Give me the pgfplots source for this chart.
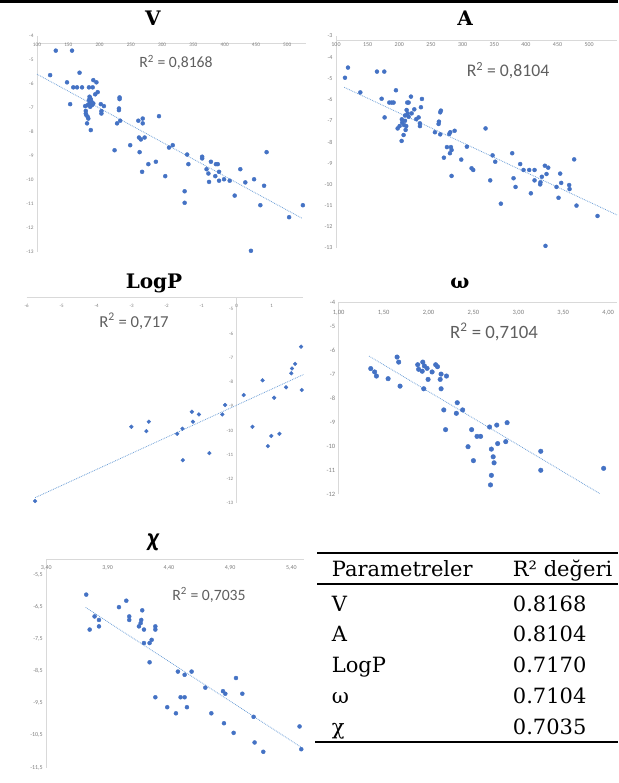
\documentclass[border=0pt]{standalone}
\usepackage{pgfplots}
\pgfplotsset{compat=1.18}
\usepackage{fontspec}
\setmainfont{DejaVu Serif}
\newfontfamily\carlito{Carlito}

\definecolor{xblue}{RGB}{68,114,196}
\definecolor{tline}{RGB}{110,160,215}
\definecolor{axgray}{RGB}{217,217,217}
\definecolor{labgray}{RGB}{125,125,125}
\definecolor{rgray}{RGB}{95,95,95}

\pgfplotsset{
  xl/.style={scale only axis, anchor=north west,
    axis x line*=top, axis y line*=left,
    axis line style={draw=axgray, line width=0.7pt},
    major tick length=0pt, scaled ticks=false, clip=false,
    tick label style={font=\carlito\fontsize{#1}{#1}\selectfont, text=labgray},
    /pgf/number format/assume math mode=true,
    xticklabel style={anchor=center}},
  dots/.style={only marks, mark=*, mark size=#1, color=xblue},
  trend/.style={no marks, densely dotted, color=tline, line width=0.8pt},
}
\newcommand{\ttl}[1]{\bfseries\fontsize{20}{24}\selectfont #1}
\newcommand{\rsq}[2]{\carlito\color{rgray}\fontsize{#1}{#1}\selectfont R\textsuperscript{2} = #2}

\begin{document}
\begin{tikzpicture}
\useasboundingbox (0,0) rectangle (618pt,-783pt);
\fill[black] (0,0) rectangle (618pt,-3pt);

% ---- V ----
\node[anchor=base] at (153pt,-26pt) {\ttl{V}};
\begin{axis}[xl=5.3, at={(37pt,-36pt)}, width=269pt, height=216pt,
  xmin=100, xmax=530, ymin=-13, ymax=-4,
  xtick={100,150,...,500}, ytick={-13,...,-4},
  axis x line shift=-7pt, xticklabel shift=-2pt]
\addplot[dots=2pt] coordinates {
(121,-5.63)(130,-4.61)(148,-5.93)(153,-6.84)(156,-4.61)(158,-6.14)(164,-6.14)
(168,-5.53)(172,-6.14)(177,-6.92)(178,-7.12)(178,-7.23)(179,-7.30)(180,-7.64)
(181,-7.37)(181,-6.88)(182,-7.44)(183,-6.14)(183,-6.67)(184,-6.53)(184,-6.80)
(185,-6.95)(185,-6.60)(186,-6.64)(186,-7.92)(187,-6.73)(188,-6.88)(189,-6.14)
(190,-5.84)(190,-6.81)(193,-6.43)(195,-5.93)(197,-6.34)(202,-6.84)(203,-7.13)
(203,-7.23)(207,-6.92)(224,-8.76)(228,-7.64)(231,-7.09)(231,-7.02)(232,-6.56)
(232,-6.63)(233,-7.53)(249,-8.55)(262,-7.53)(263,-8.23)(264,-8.84)(266,-8.31)
(269,-7.44)(269,-7.64)(268,-9.66)(272,-8.23)(278,-9.34)(290,-9.24)(295,-7.34)
(305,-9.84)(311,-8.65)(317,-8.55)(336,-10.47)(336,-10.95)(340,-8.94)(342,-9.34)
(364,-9.10)(364,-9.03)(371,-9.55)(374,-9.73)(375,-10.08)(378,-9.24)(385,-9.84)
(386,-9.34)(389,-9.34)(391,-9.66)(391,-10.03)(399,-9.97)(408,-10.03)(416,-10.65)
(425,-9.55)(433,-10.10)(447,-9.97)(457,-11.05)(463,-10.24)(467,-8.84)(503,-11.55)
(525,-11.05)(442,-12.95)};
\addplot[trend] coordinates {(100,-5.59)(524,-11.60)};
\end{axis}
\node[anchor=base] at (176pt,-68pt) {\rsq{15.7}{0,8168}};

% ---- A ----
\node[anchor=base] at (465pt,-26pt) {\ttl{A}};
\begin{axis}[xl=6, at={(336pt,-36pt)}, width=281pt, height=212pt,
  xmin=100, xmax=544, ymin=-13, ymax=-3,
  xtick={100,150,...,500}, ytick={-13,...,-3},
  axis x line shift=-4pt, xticklabel shift=-5pt]
\addplot[dots=2pt] coordinates {
(114.2,-4.97)(118.9,-4.49)(138.4,-5.66)(164.7,-4.68)(176.3,-4.68)(172.1,-5.96)
(176.8,-6.84)(184.2,-6.14)(188,-6.14)(191,-6.14)(194.7,-5.56)(197.4,-7.36)
(200.5,-7.25)(203.7,-7.95)(204,-6.93)(204.5,-7.09)(206.8,-7.67)(207.5,-7.20)
(209,-6.75)(209,-7.00)(210,-7.43)(211.6,-6.49)(213.2,-6.65)(214.7,-6.81)
(211,-7.25)(212.6,-6.14)(214.7,-6.14)(218.4,-5.86)(219.5,-6.65)(223.7,-6.46)
(226.8,-6.92)(230.5,-6.84)(234.2,-6.36)(235.8,-5.97)(232.6,-7.12)(232.6,-7.25)
(256.3,-7.54)(262.1,-7.15)(262.6,-7.04)(264.7,-6.60)(265.7,-6.52)(264.7,-7.64)
(270.5,-8.74)(275.3,-8.24)(279,-7.62)(280.5,-7.54)(280,-8.53)(281.6,-8.24)
(282.6,-8.38)(282.6,-9.60)(287.4,-7.47)(297.9,-8.83)(306.8,-8.22)(314.2,-9.24)
(316.8,-9.32)(336.3,-7.36)(343.7,-9.81)(347.4,-8.63)(351.6,-8.93)(360.5,-10.91)
(378.4,-8.53)(380.5,-9.71)(383.7,-10.12)(391,-9.04)(396.3,-9.32)(405.3,-9.32)
(407.9,-10.42)(413.7,-9.32)(413.7,-9.81)(422.6,-10.00)(423.1,-9.90)(425.3,-9.64)
(430,-9.12)(432.6,-9.51)(435.3,-9.21)(431,-12.90)(448.4,-10.12)(451.6,-10.63)
(454.2,-9.49)(455.8,-9.93)(468.4,-10.03)(469,-10.22)(476.3,-8.82)(480,-11.00)
(513.2,-11.49)};
\addplot[trend] coordinates {(113,-5.42)(544,-11.44)};
\end{axis}
\node[anchor=base] at (508pt,-77pt) {\rsq{17.7}{0,8104}};

% ---- LogP ----
\node[anchor=base] at (154pt,-288pt) {\ttl{LogP}};
\begin{axis}[xl=5, at={(26.7pt,-297.3pt)}, width=276.5pt, height=205.7pt,
  xmin=-6, xmax=1.9, ymin=-13, ymax=-4.5,
  xtick={-6,...,1}, ytick={-13,...,-5},
  axis y line*=middle, xticklabel shift=-9pt]
\addplot[dots=1.9pt] coordinates {
(-5.76,-12.92)(-3.01,-9.85)(-2.58,-10.03)(-2.51,-9.64)(-1.70,-10.14)(-1.55,-9.93)
(-1.54,-11.23)(-1.28,-9.23)(-1.25,-9.64)(-1.08,-9.34)(-0.78,-10.94)(-0.41,-9.34)
(-0.33,-8.95)(0.20,-8.54)(0.45,-9.85)(0.74,-7.93)(0.89,-10.65)(0.99,-10.23)
(1.07,-8.65)(1.22,-10.14)(1.41,-8.22)(1.56,-7.64)(1.58,-7.44)(1.67,-7.25)
(1.84,-6.54)(1.86,-8.33)};
\addplot[trend] coordinates {(-5.76,-12.78)(1.91,-7.69)};
\end{axis}
\node[anchor=base] at (134pt,-327pt) {\rsq{16.7}{0,717}};

% ---- omega ----
\node[anchor=base] at (460pt,-288pt) {\ttl{ω}};
\begin{axis}[xl=6.5, at={(338.7pt,-302pt)}, width=278.4pt, height=192.3pt,
  xmin=1, xmax=4.1, ymin=-12, ymax=-4,
  xtick={1,1.5,...,4}, ytick={-12,...,-4},
  xticklabel style={/pgf/number format/.cd, fixed, fixed zerofill, precision=2, use comma},
  xticklabel shift=-11pt]
\addplot[dots=2.3pt] coordinates {
(1.357,-6.77)(1.40,-6.91)(1.42,-7.08)(1.55,-7.19)(1.65,-6.29)(1.668,-6.50)
(1.683,-7.50)(1.88,-6.61)(1.89,-6.80)(1.93,-6.88)(1.936,-6.50)(1.954,-6.66)
(1.947,-7.61)(1.984,-6.76)(1.995,-7.22)(2.04,-6.91)(2.08,-6.61)(2.10,-6.69)
(2.13,-7.22)(2.14,-7.00)(2.14,-7.61)(2.20,-7.08)(2.17,-8.49)(2.19,-9.31)
(2.31,-8.63)(2.32,-8.19)(2.38,-8.49)(2.44,-10.02)(2.48,-9.31)(2.50,-10.60)
(2.54,-9.59)(2.58,-9.59)(2.68,-9.20)(2.69,-11.61)(2.70,-11.21)(2.70,-10.12)
(2.72,-10.44)(2.73,-10.69)(2.76,-9.12)(2.77,-9.89)(2.86,-9.81)(2.875,-9.02)
(3.25,-10.21)(3.25,-11.00)(3.95,-10.92)};
\addplot[trend] coordinates {(1.338,-6.25)(3.907,-11.97)};
\end{axis}
\node[anchor=base] at (494pt,-338pt) {\rsq{18.8}{0,7104}};

% ---- chi ----
\node[anchor=base] at (153pt,-546pt) {\carlito\bfseries\itshape\fontsize{26}{30}\selectfont χ};
\begin{axis}[xl=6, at={(46.3pt,-559pt)}, width=257.3pt, height=208.5pt,
  xmin=3.4, xmax=5.5, ymin=-11.5, ymax=-5,
  xtick={3.4,3.9,...,5.4}, ytick={-11.5,-10.5,...,-5.5},
  xticklabel style={/pgf/number format/.cd, fixed, fixed zerofill, precision=2, use comma},
  yticklabel style={/pgf/number format/.cd, fixed, precision=1, use comma},
  xticklabel shift=-9pt]
\addplot[dots=2pt] coordinates {
(3.726,-6.11)(3.754,-7.20)(3.794,-6.79)(3.83,-6.90)(3.83,-7.10)(3.993,-6.50)
(4.053,-6.30)(4.077,-6.79)(4.077,-6.90)(4.156,-7.10)(4.17,-7.00)(4.175,-6.90)
(4.183,-6.60)(4.197,-7.20)(4.197,-7.62)(4.243,-7.62)(4.26,-7.52)(4.243,-8.22)
(4.29,-7.10)(4.29,-7.20)(4.29,-9.31)(4.387,-9.62)(4.458,-9.81)(4.474,-8.51)
(4.496,-9.31)(4.529,-9.31)(4.529,-8.61)(4.548,-9.62)(4.586,-8.51)(4.698,-9.01)
(4.747,-9.81)(4.842,-9.12)(4.85,-10.12)(4.861,-9.20)(4.929,-10.42)(4.948,-8.71)
(5.0,-9.20)(5.092,-9.92)(5.10,-10.72)(5.171,-11.01)(5.467,-10.22)(5.481,-10.93)};
\addplot[trend] coordinates {(3.721,-6.51)(5.481,-10.87)};
\end{axis}
\node[anchor=base] at (209pt,-600pt) {\rsq{15.7}{0,7035}};

% ---- table ----
\draw[line width=2pt] (317pt,-553pt) -- (618pt,-553pt);
\draw[line width=1.4pt] (317pt,-584pt) -- (618pt,-584pt);
\draw[line width=2pt] (315pt,-742pt) -- (618pt,-742pt);
\begin{scope}[every node/.style={anchor=base west, inner sep=0pt, font=\fontsize{21}{25}\selectfont}]
\node at (331.7pt,-576.7pt) {Parametreler};
\node at (512.7pt,-576.7pt) {R² değeri};
\node at (331.7pt,-611pt) {V};      \node at (512.7pt,-611pt) {0.8168};
\node at (331.7pt,-641.7pt) {A};    \node at (512.7pt,-641.7pt) {0.8104};
\node at (331.7pt,-672.7pt) {LogP}; \node at (512.7pt,-672.7pt) {0.7170};
\node at (331.7pt,-703.3pt) {ω};    \node at (512.7pt,-703.3pt) {0.7104};
\node at (331.7pt,-734.3pt) {χ};    \node at (512.7pt,-734.3pt) {0.7035};
\end{scope}
\end{tikzpicture}
\end{document}
